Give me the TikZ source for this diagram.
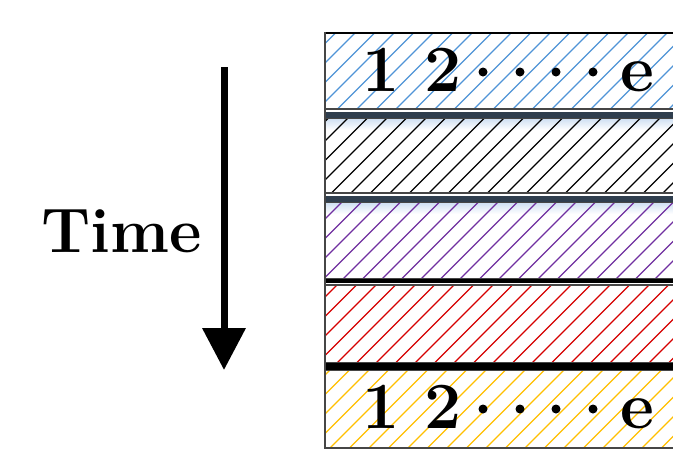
\documentclass[tikz,border=0pt]{standalone}
\usetikzlibrary{arrows.meta}
\definecolor{hblue}{RGB}{80,148,215}
\definecolor{hpurple}{RGB}{112,48,160}
\definecolor{hred}{RGB}{214,0,0}
\definecolor{hyellow}{RGB}{255,192,0}
\definecolor{slate}{RGB}{47,62,78}
\definecolor{edge}{RGB}{70,70,70}
\definecolor{glow}{RGB}{205,222,242}
% one hatched bar: top y, bottom y, hatch colour (45 degree lines on a common grid)
\newcommand\hatchbar[3]{%
  \begin{scope}
    \clip (325,-#1) rectangle (690,-#2);
    \foreach \c in {310,329.5,...,1160}
      \draw[#3, line width=1.4pt] (\c-#2,-#2) -- (\c-#1,-#1);
  \end{scope}
  \draw[edge, line width=2pt] (325,-#1) rectangle (690,-#2);}
\tikzset{
  big/.style={font=\fontsize{66}{70}\selectfont\bfseries, inner sep=0pt, anchor=base west},
  axislabel/.style={font=\fontsize{63}{68}\selectfont\bfseries, inner sep=0pt, anchor=base west},
  dot/.style={circle, fill=black, inner sep=0pt, minimum size=9pt},
  timearrow/.style={line width=7pt, -{Triangle[width=42pt,length=42pt]}}
}
\begin{document}
\begin{tikzpicture}[x=1pt,y=1pt]
\useasboundingbox (0,0) rectangle (673,-450);
\fill[white] (0,0) rectangle (673,-450);
\clip (0,0) rectangle (673,-450);

% soft shadow under the slate separators
\shade[top color=glow, bottom color=white] (325,-118) rectangle (690,-130);
\shade[top color=glow, bottom color=white] (325,-202) rectangle (690,-214);

% stacked bars
\hatchbar{33}{109}{hblue}
\hatchbar{118}{193}{black}
\hatchbar{202}{279}{hpurple}
\hatchbar{285}{363}{hred}
\hatchbar{370}{448}{hyellow}

% separators between bars
\draw[black, line width=2.5pt] (325,-33) -- (690,-33);
\fill[slate] (324,-112) rectangle (690,-118);
\fill[slate] (324,-196) rectangle (690,-202);
\fill[black] (324,-279) rectangle (690,-283);
\fill[black] (324,-363) rectangle (690,-370);
\draw[edge, line width=2.5pt] (325,-32) -- (325,-449);

% labels in the first bar
\node[big] (a1) at (362,-91) {1};
\node[big] (a2) at (424,-91) {2};
\node[dot] (d1) at (483,-72) {};
\node[dot] (d2) at (520,-72) {};
\node[dot] (d3) at (556,-72) {};
\node[dot] (d4) at (593,-72) {};
\node[big] (ae) at (620,-91) {e};

% labels in the last bar
\node[big] (b1) at (362,-428) {1};
\node[big] (b2) at (424,-428) {2};
\node[dot] (e1) at (483,-409) {};
\node[dot] (e2) at (520,-409) {};
\node[dot] (e3) at (556,-409) {};
\node[dot] (e4) at (593,-409) {};
\node[big] (be) at (620,-428) {e};

% time axis
\coordinate (tstart) at (224,-67);
\coordinate (tend) at (224,-370);
\draw[timearrow] (tstart) -- (tend);
\node[axislabel] (time) at (41,-252) {Time};
\end{tikzpicture}
\end{document}
